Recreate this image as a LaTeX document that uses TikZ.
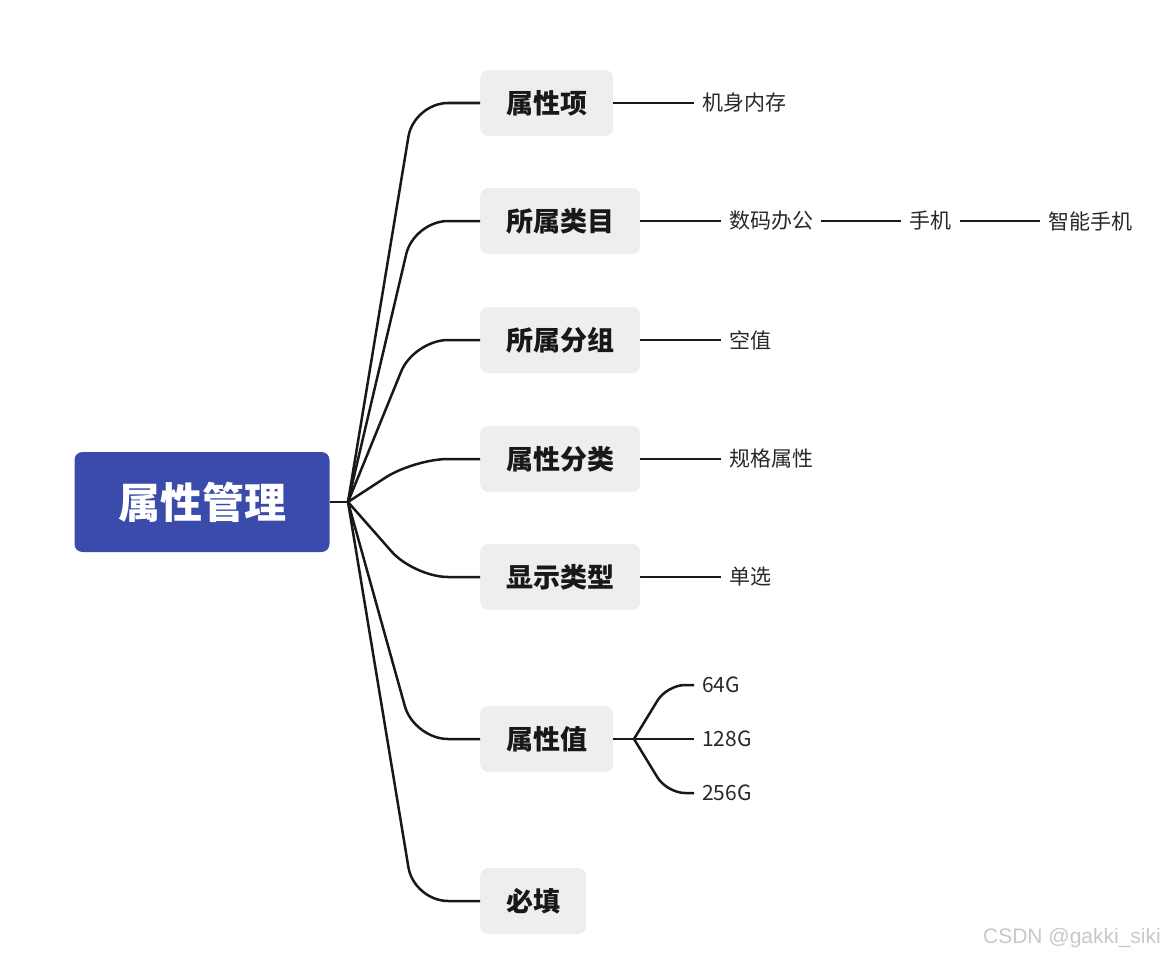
\documentclass[tikz,border=0pt]{standalone}
\usepackage{fontspec}
\usepackage{tikz}
\usetikzlibrary{positioning}
\setmainfont{Noto Sans CJK SC}
\newfontfamily\markfont{Liberation Sans}
\definecolor{deep_blue}{RGB}{58,75,171}
\definecolor{light_gray}{RGB}{238,238,238}
\definecolor{ink}{RGB}{24,24,24}
\definecolor{leaf_text}{RGB}{40,40,40}
\definecolor{mark_gray}{RGB}{200,200,200}

\tikzset{
	root/.style={rectangle,rounded corners=8pt,fill=deep_blue,text=white,font=\fontsize{42}{48}\selectfont\bfseries,minimum width=255pt,minimum height=100pt},
	topic/.style={rectangle,rounded corners=8pt,fill=light_gray,text=ink,font=\fontsize{27}{32}\selectfont\bfseries,inner xsep=26pt,minimum height=66pt,anchor=west},
	leaf/.style={inner xsep=8pt,inner ysep=2pt,text=leaf_text,font=\fontsize{21}{25}\selectfont,anchor=west},
	branch/.style={draw=ink,line width=2.5pt,rounded corners=34pt},
}

\begin{document}
\begin{tikzpicture}[x=1pt,y=-1pt]
	\useasboundingbox (0,0) rectangle (1168,958);

	\node[root] (0) at (202,502) {属性管理};
	\coordinate (h) at (348,502);

	\node[topic] (1) at (480,103) {属性项};
	\node[topic] (2) at (480,221) {所属类目};
	\node[topic] (3) at (480,340) {所属分组};
	\node[topic] (4) at (480,459) {属性分类};
	\node[topic] (5) at (480,577) {显示类型};
	\node[topic] (6) at (480,739) {属性值};
	\node[topic] (7) at (480,901) {必填};

	\node[leaf] (11) at (694,103) {机身内存};
	\node[leaf] (21) at (721,221) {数码办公};
	\node[leaf,right=80pt of 21] (22) {手机};
	\node[leaf,right=80pt of 22] (23) {智能手机};
	\node[leaf] (31) at (721,340) {空值};
	\node[leaf] (41) at (721,459) {规格属性};
	\node[leaf] (51) at (721,577) {单选};
	\coordinate (h6) at (634,739);
	\node[leaf] (61) at (694,685) {64G};
	\node[leaf] (62) at (694,739) {128G};
	\node[leaf] (63) at (694,793) {256G};

	\draw[branch] (0) -- (h);
	\foreach \n in {1,...,7}
		\draw[branch] (h) -- ([xshift=-66pt]\n.west) -- (\n.west);

	\foreach \x/\y in {1/11,2/21,21/22,22/23,3/31,4/41,5/51,6/h6}
		\draw[branch] (\x) -- (\y);
	\foreach \n in {61,62,63}
		\draw[branch,rounded corners=18pt] (h6) -- ([xshift=-27pt]\n.west) -- (\n.west);

	\node[text=mark_gray,font=\markfont\fontsize{21}{25}\selectfont] (mark) at (1072,938) {CSDN @gakki\_siki};
\end{tikzpicture}
\end{document}
